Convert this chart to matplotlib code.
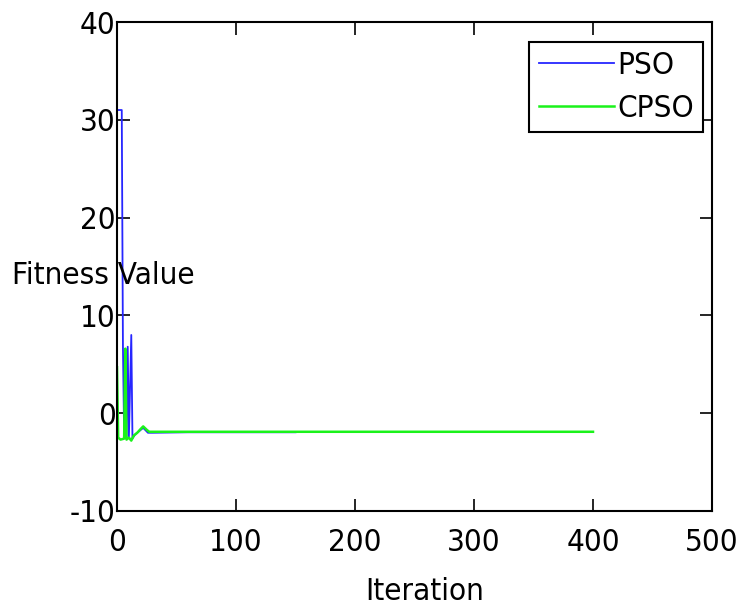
import matplotlib
matplotlib.use("Agg")
import matplotlib.pyplot as plt
from matplotlib import font_manager

# data
pso_iter = [0, 4, 5, 6, 8, 9, 10, 12, 13, 15, 18, 22, 26, 30, 60, 100, 150]
pso_val = [31.0, 31.0, 6.7, -2.2, -2.4, 6.8, -2.4, 8.0, -2.6, -2.2, -1.9, -1.5, -2.0, -2.0, -1.95, -1.95, -1.95]

cpso_iter = [0, 1, 3, 6, 7, 8, 10, 12, 14, 17, 20, 22, 25, 27, 50, 100, 200, 300, 400]
cpso_val = [4.7, -2.5, -2.7, -2.6, 6.6, -2.7, -2.5, -2.8, -2.3, -2.0, -1.6, -1.35, -1.7, -1.9, -1.9, -1.9, -1.9, -1.9, -1.9]

xticks = [0, 100, 200, 300, 400, 500]
yticks = [-10, 0, 10, 20, 30, 40]

# look for a narrow sans face, the reference text is horizontally squeezed
narrow = None
for f in font_manager.fontManager.ttflist:
    n = f.fname.lower()
    if ("narrow" in n or "condensed" in n) and "bold" not in n and "oblique" not in n \
            and "italic" not in n and "serif" not in n and "mono" not in n:
        narrow = f
        break

if narrow is not None:
    plt.rcParams["font.family"] = [narrow.name, "DejaVu Sans"]
    plt.rcParams["font.stretch"] = narrow.stretch
    size = 22.5
else:
    plt.rcParams["font.family"] = ["Liberation Sans", "DejaVu Sans"]
    size = 22
plt.rcParams["axes.unicode_minus"] = False

fig = plt.figure(figsize=(7.42, 6.08), dpi=100)
ax = fig.add_axes([117 / 742, 1 - 511 / 608, 595 / 742, 489 / 608])

ax.plot(pso_iter, pso_val, color=(0.15, 0.15, 1.0), lw=1.3, label="PSO")
ax.plot(cpso_iter, cpso_val, color=(0.1, 0.95, 0.1), lw=1.8, label="CPSO")

ax.set_xlim(0, 500)
ax.set_ylim(-10, 40)
ax.set_xticks(xticks)
ax.set_yticks(yticks)
ax.tick_params(direction="in", length=9, width=1.2, top=True, right=True,
               labelsize=size, pad=1)
ax.tick_params(axis="x", pad=12)
for s in ax.spines.values():
    s.set_linewidth(1.5)

leg = ax.legend(loc="upper right", bbox_to_anchor=(0.985, 0.96), fontsize=size,
                fancybox=False, edgecolor="black", framealpha=1,
                handlelength=2.4, handletextpad=0.1, borderpad=0.3,
                labelspacing=0.45, borderaxespad=0)
leg.get_frame().set_linewidth(1.5)

fig.text(12 / 742, 1 - 275 / 608, "Fitness Value", fontsize=size, va="center", ha="left")
fig.text(425 / 742, 1 - 592 / 608, "Iteration", fontsize=size, va="center", ha="center")

fig.savefig("out.png", dpi=100)
